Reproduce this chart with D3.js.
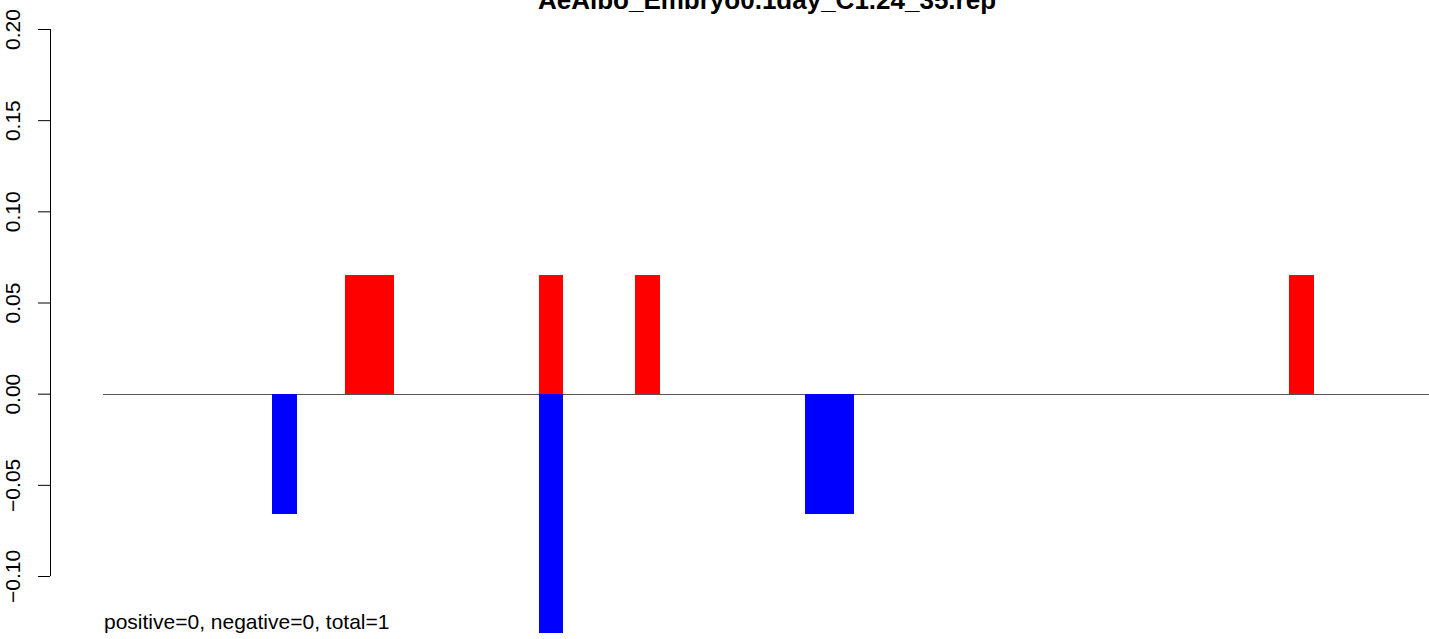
<!DOCTYPE html>
<html>
<head>
<meta charset="utf-8">
<script src="https://cdn.jsdelivr.net/npm/d3@7"></script>
<style>
  html, body { margin: 0; padding: 0; background: #fff; }
  svg { display: block; font-family: "Liberation Sans", Arial, sans-serif; }
</style>
</head>
<body>
<svg id="chart" width="1429" height="639"></svg>
<script>
// ---- data ----
const title = "AeAlbo_Embryo0.1day_C1.24_35.rep";
const footnote = "positive=0, negative=0, total=1";
// slot index along x (one slot = one bar width)
const posSlots  = [10, 11, 18, 22, 49];
const posValues = [0.065, 0.065, 0.065, 0.065, 0.065];
const negSlots  = [7, 18, 29, 30];
const negValues = [-0.066, -0.131, -0.066, -0.066];
const yTicks = [-0.10, -0.05, 0.00, 0.05, 0.10, 0.15, 0.20];
const nSlots = 54.75;

// ---- layout ----
const svg = d3.select("#chart");
const x = d3.scaleLinear().domain([0, nSlots]).range([103, 1428]);
const y = d3.scaleLinear().domain([-0.1, 0.2]).range([576, 29]);
const bw = x(1) - x(0);

// zero line (drawn first, bars on top)
svg.append("line")
  .attr("x1", x(0)).attr("x2", 1429)
  .attr("y1", Math.round(y(0)) + 0.5).attr("y2", Math.round(y(0)) + 0.5)
  .attr("stroke", "#555").attr("stroke-width", 1);

// bars
svg.append("g").attr("shape-rendering", "crispEdges").selectAll("rect")
  .data(posSlots.map((s, i) => ({s, v: posValues[i]})))
  .join("rect")
  .attr("x", d => x(d.s))
  .attr("width", bw + 0.6)
  .attr("y", d => y(d.v))
  .attr("height", d => y(0) - y(d.v))
  .attr("fill", "#ff0000");

svg.append("g").attr("shape-rendering", "crispEdges").selectAll("rect")
  .data(negSlots.map((s, i) => ({s, v: negValues[i]})))
  .join("rect")
  .attr("x", d => x(d.s))
  .attr("width", bw + 0.6)
  .attr("y", y(0))
  .attr("height", d => y(d.v) - y(0))
  .attr("fill", "#0000ff");

// y axis
const axis = d3.axisLeft(y).tickValues(yTicks).tickSize(12).tickPadding(16)
  .tickFormat(d3.format(".2f"));
const gy = svg.append("g").attr("transform", "translate(50,0)").call(axis);
gy.select(".domain").attr("stroke", "#000").attr("d", `M0.5,${y(0.2)}V${y(-0.1)}`);
gy.selectAll(".tick line").attr("stroke", "#000");
gy.selectAll(".tick text")
  .text(d => d3.format(".2f")(d).replace("-", "\u2212"))
  .attr("font-size", 21)
  .attr("fill", "#000")
  .attr("text-anchor", "middle")
  .attr("dy", null)
  .attr("x", null)
  .attr("transform", "translate(-30,0) rotate(-90)")
  .attr("y", 0);

// title (top is clipped by the window edge, as in the reference)
svg.append("text")
  .attr("x", 767).attr("y", 9)
  .attr("text-anchor", "middle")
  .attr("font-weight", "bold")
  .attr("font-size", 26)
  .text(title);

// footnote
svg.append("text")
  .attr("x", 104).attr("y", 629)
  .attr("font-size", 21)
  .text(footnote);
</script>
</body>
</html>
